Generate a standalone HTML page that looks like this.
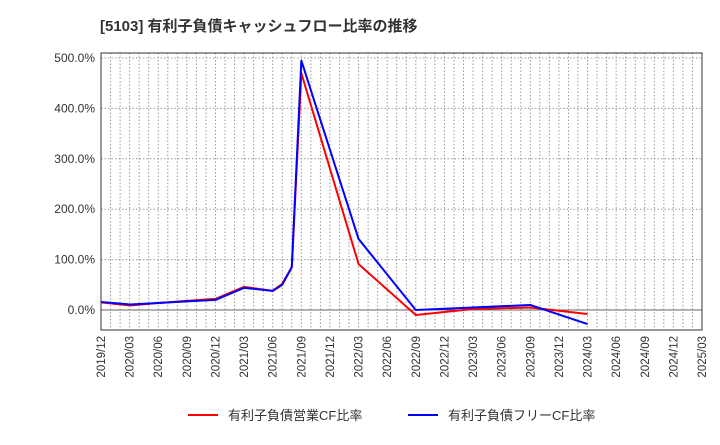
<!DOCTYPE html>
<html><head><meta charset="utf-8"><style>
body{margin:0;background:#fff;font-family:"Liberation Sans","Noto Sans CJK JP",sans-serif}
svg text{font-family:"Liberation Sans","Noto Sans CJK JP",sans-serif}
</style></head><body>
<svg id="c" width="720" height="440" xmlns="http://www.w3.org/2000/svg">
<text x="100" y="31" font-size="15" font-weight="bold" fill="#333">[5103]  有利子負債キャッシュフロー比率の推移</text>
<g id="grid"></g><g id="axes"></g><g id="series"></g>
<g>
<line x1="188" y1="415" x2="218" y2="415" stroke="#f00" stroke-width="2"/>
<text x="228" y="420" font-size="13" fill="#333">有利子負債営業CF比率</text>
<line x1="408" y1="415" x2="438" y2="415" stroke="#00f" stroke-width="2"/>
<text x="448" y="420" font-size="13" fill="#333">有利子負債フリーCF比率</text>
</g>
</svg>
<script>
const xLabels=["2019/12","2020/03","2020/06","2020/09","2020/12","2021/03","2021/06","2021/09","2021/12","2022/03","2022/06","2022/09","2022/12","2023/03","2023/06","2023/09","2023/12","2024/03","2024/06","2024/09","2024/12","2025/03"];
const yTicks=[0,100,200,300,400,500];
const pointQ=[0,1,2,3,4,5,6,6.333,6.667,7,9,11,13,15,17];
const opCF=[15,9,14,18,22,46,38,52,85,470,91,-10,2,5,-8];
const freeCF=[16,11,14,17,20,44,38,50,85,495,141,0,5,10,-28];
const L=101,R=702,T=53,B=330,Y0=310,PX=0.504,QW=(R-L)/21;
const X=q=>L+q*QW, Y=v=>Y0-v*PX;
const NS="http://www.w3.org/2000/svg";
function mk(tag,attrs,parent){const e=document.createElementNS(NS,tag);for(const k in attrs)e.setAttribute(k,attrs[k]);parent.appendChild(e);return e;}
const grid=document.getElementById('grid'),axes=document.getElementById('axes'),ser=document.getElementById('series');
for(let m=1;m<63;m++){const x=L+m*QW/3;
const g=mk('line',{x1:x,y1:T,x2:x,y2:B,stroke:'#999','stroke-dasharray':'1.5,2','stroke-width':1},grid);

}
yTicks.forEach(v=>{const y=Y(v);
const g=mk('line',{x1:L,y1:y,x2:R,y2:y,stroke:v===0?'#666':'#999','stroke-dasharray':v===0?'none':'1.5,2','stroke-width':1},grid);


const t=mk('text',{x:L-6,y:y+4,'text-anchor':'end','font-size':12,fill:'#333'},axes);t.textContent=v.toFixed(1)+'%';

});
const fr=mk('rect',{x:L,y:T,width:R-L,height:B-T,fill:'none',stroke:'#333','stroke-width':1},axes);


xLabels.forEach((s,i)=>{const x=X(i);
const t=mk('text',{x:x+4,y:B+6,'text-anchor':'end','font-size':11.5,fill:'#333',transform:`rotate(-90 ${x+4} ${B+6})`},axes);t.textContent=s;

});
function line(vals,color,name){const p=mk('polyline',{points:vals.map((v,i)=>X(pointQ[i])+','+Y(v)).join(' '),fill:'none',stroke:color,'stroke-width':2,'stroke-linejoin':'round'},ser);

}
line(opCF,'#f00','operating-cf-line');
line(freeCF,'#00f','free-cf-line');
</script>
</body></html>
